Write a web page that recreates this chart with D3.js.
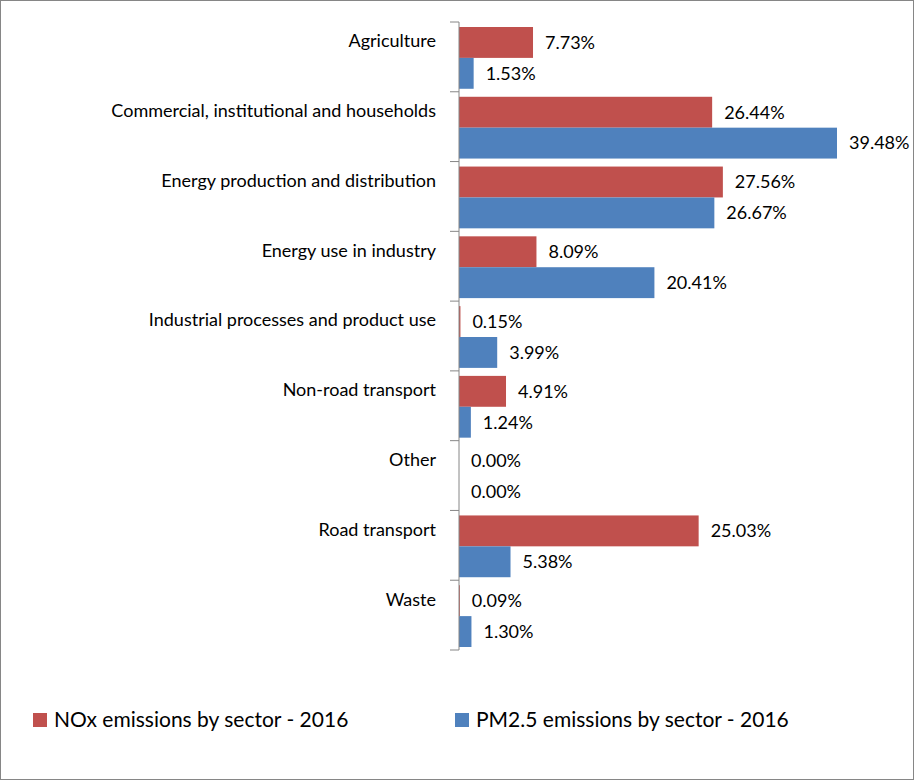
<!DOCTYPE html>
<html>
<head>
<meta charset="utf-8">
<script src="https://cdn.jsdelivr.net/npm/d3@7"></script>
<style>
  body { margin: 0; background: #fff; }
  text { font-family: Lato, 'Open Sans', sans-serif; fill: #000; }
</style>
</head>
<body>
<div id="chart"></div>
<script>
const categories = [
  'Agriculture',
  'Commercial, institutional and households',
  'Energy production and distribution',
  'Energy use in industry',
  'Industrial processes and product use',
  'Non-road transport',
  'Other',
  'Road transport',
  'Waste'
]
const noxValues = [7.73, 26.44, 27.56, 8.09, 0.15, 4.91, 0.0, 25.03, 0.09]
const pmValues = [1.53, 39.48, 26.67, 20.41, 3.99, 1.24, 0.0, 5.38, 1.3]
const seriesNames = ['NOx emissions by sector - 2016', 'PM2.5 emissions by sector - 2016']
const colors = ['#C0504D', '#4F81BD']

const W = 914, H = 780
const margin = { top: 22, left: 459, right: 77, bottom: 130 }
const width = W - margin.left - margin.right
const height = H - margin.top - margin.bottom

const root = d3.select('#chart').append('svg').attr('width', W).attr('height', H)
root.append('rect').attr('x', 0.5).attr('y', 0.5).attr('width', W - 1).attr('height', H - 1)
  .attr('fill', '#fff').attr('stroke', '#868686')

const svg = root.append('g').attr('transform', 'translate(' + margin.left + ',' + margin.top + ')')

const x = d3.scaleLinear().domain([0, 39.48]).range([0, 378])
const y = d3.scaleBand().domain(categories).range([0, height])
const inner = d3.scaleBand().domain([0, 1]).range([5, y.bandwidth() - 3])

const series = [noxValues, pmValues]
series.forEach((vals, s) => {
  const g = svg.append('g')
  g.selectAll('rect').data(categories).enter().append('rect')
    .attr('x', 0)
    .attr('y', d => y(d) + inner(s))
    .attr('width', (d, i) => x(vals[i]))
    .attr('height', inner.bandwidth())
    .attr('fill', colors[s])
  g.selectAll('text').data(categories).enter().append('text')
    .attr('x', (d, i) => x(vals[i]) + 12)
    .attr('y', d => y(d) + inner(s) + inner.bandwidth() / 2)
    .attr('dy', '0.35em')
    .attr('font-size', 18)
    .text((d, i) => vals[i].toFixed(2) + '%')
})

// axis with ticks at category boundaries
svg.append('line').attr('x1', 0).attr('x2', 0).attr('y1', 0).attr('y2', height).attr('stroke', '#868686')
const bounds = d3.range(categories.length + 1).map(i => i * y.step())
svg.selectAll('.tick').data(bounds).enter().append('line')
  .attr('x1', -9).attr('x2', 0).attr('y1', d => d).attr('y2', d => d).attr('stroke', '#868686')

svg.selectAll('.cat').data(categories).enter().append('text')
  .attr('x', -23)
  .attr('y', d => y(d) + 19)
  .attr('dy', '0.35em')
  .attr('text-anchor', 'end')
  .attr('font-size', 18)
  .text(d => d)

// legend
const legendX = [33, 455]
seriesNames.forEach((name, i) => {
  root.append('rect').attr('x', legendX[i]).attr('y', 713).attr('width', 14).attr('height', 14).attr('fill', colors[i])
  root.append('text').attr('x', legendX[i] + 21).attr('y', 720).attr('dy', '0.35em')
    .attr('font-size', 21).text(name)
})
</script>
</body>
</html>
